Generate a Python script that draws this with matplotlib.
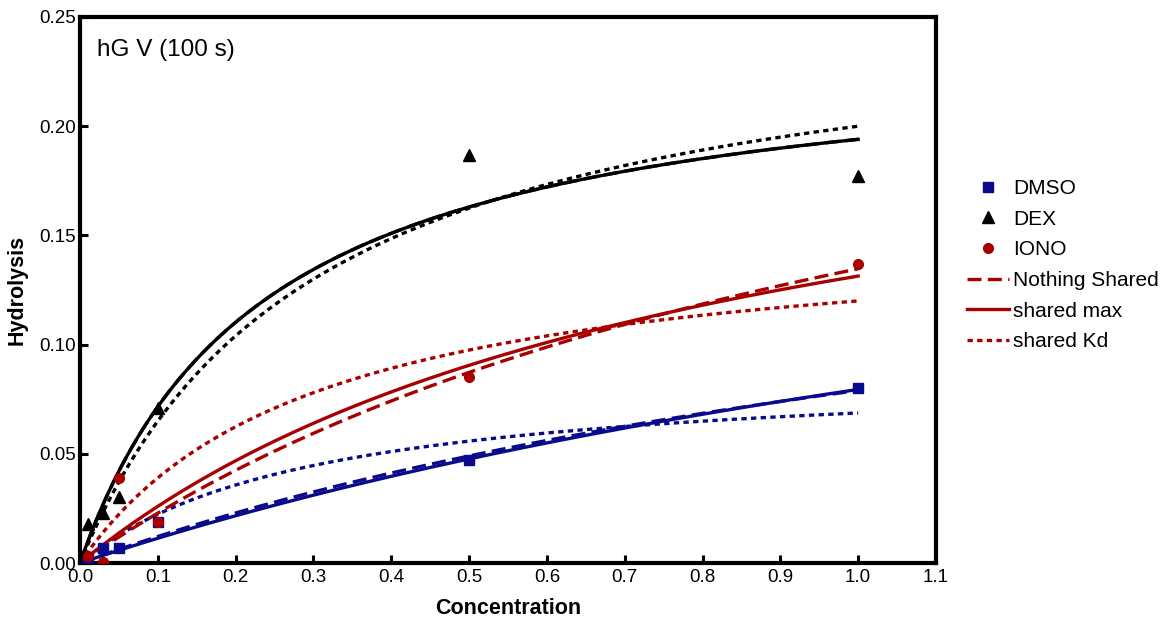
import numpy as np
import matplotlib
matplotlib.use("Agg")
import matplotlib.pyplot as plt

plt.rcParams["font.family"] = ["Liberation Sans", "DejaVu Sans"]

# measured points
conc = [0.01, 0.03, 0.05, 0.1, 0.5, 1.0]
dmso = [0.002, 0.007, 0.007, 0.019, 0.047, 0.080]
dex = [0.018, 0.023, 0.030, 0.071, 0.187, 0.177]
iono = [0.003, 0.0005, 0.039, 0.019, 0.085, 0.137]

# fitted one-site binding parameters (Bmax, Kd) per dataset and model
names = ["DMSO", "DEX", "IONO"]
colors = ["#0a0a8c", "#000000", "#a80000"]
nothing_shared_bmax = [0.2036, 0.2395, 0.2950]
nothing_shared_kd = [1.577, 0.2346, 1.19]
shared_max_bmax = [0.2395, 0.2395, 0.2395]
shared_max_kd = [2.013, 0.2346, 0.823]
shared_kd_bmax = [0.0893, 0.2600, 0.1560]
shared_kd_kd = [0.30, 0.30, 0.30]


def binding(x, bmax, kd):
    return bmax * x / (kd + x)


fig = plt.figure(figsize=(11.76, 6.23), dpi=100)
ax = fig.add_axes([80 / 1176, 60 / 623, 856 / 1176, 546 / 623])

xs = np.linspace(0, 1.0, 300)
lw = 2.4
for i, c in enumerate(colors):
    ax.plot(xs, binding(xs, nothing_shared_bmax[i], nothing_shared_kd[i]), color=c,
            lw=lw, dashes=(4.2, 1.9), zorder=2)
    ax.plot(xs, binding(xs, shared_max_bmax[i], shared_max_kd[i]), color=c,
            lw=lw, zorder=2)
    ax.plot(xs, binding(xs, shared_kd_bmax[i], shared_kd_kd[i]), color=c,
            lw=lw, dashes=(1.6, 1.3), zorder=2)

ax.plot(conc, dmso, "s", color=colors[0], ms=6.5, ls="none", zorder=3)
ax.plot(conc, dex, "^", color=colors[1], ms=8, ls="none", zorder=3)
ax.plot(conc, iono, "o", color=colors[2], ms=7, ls="none", zorder=3)

ax.set_xlim(0, 1.1)
ax.set_ylim(0, 0.25)
ax.set_xticks(np.arange(0, 1.11, 0.1))
ax.set_xticklabels([f"{v:.1f}" for v in np.arange(0, 1.11, 0.1)])
ax.set_yticks(np.arange(0, 0.251, 0.05))
ax.set_yticklabels([f"{v:.2f}" for v in np.arange(0, 0.251, 0.05)])
ax.tick_params(direction="in", length=6, width=2.2, labelsize=13.5)
ax.tick_params(axis="x", pad=4)
ax.tick_params(axis="y", pad=3)
for sp in ax.spines.values():
    sp.set_linewidth(3)

ax.set_xlabel("Concentration", fontsize=15.5, fontweight="bold", labelpad=9)
ax.set_ylabel("Hydrolysis", fontsize=15.5, fontweight="bold", labelpad=8)
ax.text(0.02, 0.94, "hG V (100 s)", transform=ax.transAxes, fontsize=17.5, va="center")

# legend
handles = [
    plt.Line2D([], [], marker="s", color=colors[0], ls="none", ms=6.5),
    plt.Line2D([], [], marker="^", color=colors[1], ls="none", ms=8),
    plt.Line2D([], [], marker="o", color=colors[2], ls="none", ms=7),
    plt.Line2D([], [], color=colors[2], lw=lw, dashes=(4.2, 1.9)),
    plt.Line2D([], [], color=colors[2], lw=lw),
    plt.Line2D([], [], color=colors[2], lw=lw, dashes=(1.6, 1.3)),
]
labels = names + ["Nothing Shared", "shared max", "shared Kd"]
fig.legend(handles, labels, loc="upper left", bbox_to_anchor=(967 / 1176, 1 - 179 / 623),
           frameon=False, fontsize=15, handlelength=2.0, handletextpad=0.2,
           labelspacing=0.56, borderpad=0, borderaxespad=0)

fig.savefig("out.png", dpi=100)
